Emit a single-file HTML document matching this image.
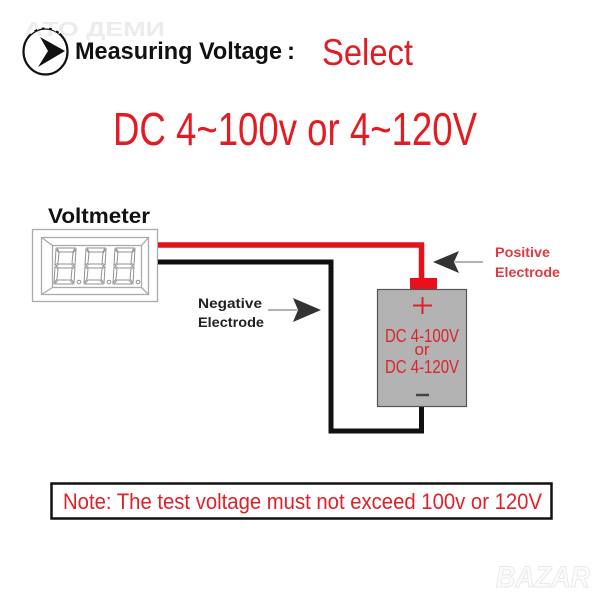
<!DOCTYPE html>
<html><head><meta charset="utf-8"><style>
html,body{margin:0;padding:0;background:#fff;}
svg{display:block;}
text{font-family:"Liberation Sans","DejaVu Sans",sans-serif;}
</style></head><body>
<svg width="600" height="600" viewBox="0 0 600 600" xmlns="http://www.w3.org/2000/svg">
<rect width="600" height="600" fill="#fff"/>
<!-- watermark -->
<text x="24" y="36" font-size="20" font-weight="bold" fill="#ececec" textLength="141" lengthAdjust="spacingAndGlyphs">АТО ДЕМИ</text>
<!-- header icon -->
<ellipse cx="45.5" cy="51.5" rx="22" ry="23" fill="none" stroke="#111" stroke-width="2.2"/>
<path d="M30,33 A22,23 0 0 1 60,33" fill="none" stroke="#fff" stroke-width="3" stroke-dasharray="5 3"/>
<path d="M40,37 L65,51 L38,67 L48,51 Z" fill="#111"/>
<text x="75" y="59" font-size="24" font-weight="bold" fill="#111" textLength="207" lengthAdjust="spacingAndGlyphs">Measuring Voltage</text>
<text x="287" y="59" font-size="24" font-weight="bold" fill="#111">:</text>
<text x="322" y="65" font-size="37" fill="#e31b23" textLength="91" lengthAdjust="spacingAndGlyphs">Select</text>
<text x="113" y="145" font-size="46" fill="#e31b23" textLength="364" lengthAdjust="spacingAndGlyphs">DC 4~100v or 4~120V</text>

<!-- Voltmeter -->
<text x="48" y="223" font-size="21" font-weight="bold" fill="#111" textLength="102" lengthAdjust="spacingAndGlyphs">Voltmeter</text>
<g fill="none" stroke="#aaa" stroke-width="1.3">
<rect x="32.5" y="229.5" width="125" height="72"/>
<rect x="41.5" y="237.5" width="107" height="57"/>
<rect x="52.5" y="245.5" width="89" height="42"/>
<line x1="41.5" y1="237.5" x2="52.5" y2="245.5"/>
<line x1="148.5" y1="237.5" x2="141.5" y2="245.5"/>
<line x1="41.5" y1="294.5" x2="52.5" y2="287.5"/>
<line x1="148.5" y1="294.5" x2="141.5" y2="287.5"/>
</g>
<g fill="none" stroke="#909090" stroke-width="1">
<g>
<path d="M57,248 L75,248 L73,252 L59,252 Z"/>
<path d="M56,249 L59,253 L58,263 L55,265 Z"/>
<path d="M76,249 L73,253 L72,263 L75,265 Z"/>
<path d="M56,266 L59,264 L71,264 L74,266 L71,268 L59,268 Z"/>
<path d="M55,267 L58,269 L57,279 L54,283 Z"/>
<path d="M75,267 L72,269 L71,279 L74,283 Z"/>
<path d="M55,284 L58,280 L70,280 L73,284 Z"/>
<circle cx="79" cy="282" r="1.8"/>
</g>
<g transform="translate(30,0)">
<path d="M57,248 L75,248 L73,252 L59,252 Z"/>
<path d="M56,249 L59,253 L58,263 L55,265 Z"/>
<path d="M76,249 L73,253 L72,263 L75,265 Z"/>
<path d="M56,266 L59,264 L71,264 L74,266 L71,268 L59,268 Z"/>
<path d="M55,267 L58,269 L57,279 L54,283 Z"/>
<path d="M75,267 L72,269 L71,279 L74,283 Z"/>
<path d="M55,284 L58,280 L70,280 L73,284 Z"/>
<circle cx="79" cy="282" r="1.8"/>
</g>
<g transform="translate(59,0)">
<path d="M57,248 L75,248 L73,252 L59,252 Z"/>
<path d="M56,249 L59,253 L58,263 L55,265 Z"/>
<path d="M76,249 L73,253 L72,263 L75,265 Z"/>
<path d="M56,266 L59,264 L71,264 L74,266 L71,268 L59,268 Z"/>
<path d="M55,267 L58,269 L57,279 L54,283 Z"/>
<path d="M75,267 L72,269 L71,279 L74,283 Z"/>
<path d="M55,284 L58,280 L70,280 L73,284 Z"/>
<circle cx="79" cy="282" r="1.8"/>
</g>
</g>

<!-- wires -->
<polyline points="158,245 421.5,245 421.5,280" fill="none" stroke="#e8101a" stroke-width="5.5"/>
<polyline points="158,262 331,262 331,431 421.5,431 421.5,406" fill="none" stroke="#111" stroke-width="5"/>

<!-- battery -->
<rect x="410" y="278" width="27" height="12" fill="#e8101a"/>
<rect x="377.5" y="289.5" width="89" height="117" fill="#b3b3b3" stroke="#555" stroke-width="1.2"/>
<line x1="413" y1="305.5" x2="432" y2="305.5" stroke="#d8262e" stroke-width="2"/>
<line x1="422.5" y1="297" x2="422.5" y2="314" stroke="#d8262e" stroke-width="2"/>
<text x="385" y="342" font-size="18" fill="#d8262e" textLength="74" lengthAdjust="spacingAndGlyphs">DC 4-100V</text>
<text x="422" y="355" font-size="17" fill="#d8262e" text-anchor="middle">or</text>
<text x="385" y="373" font-size="18" fill="#d8262e" textLength="74" lengthAdjust="spacingAndGlyphs">DC 4-120V</text>
<line x1="416" y1="395" x2="429" y2="395" stroke="#444" stroke-width="2.5"/>

<!-- positive arrow -->
<line x1="455" y1="262" x2="483" y2="262" stroke="#666" stroke-width="1"/>
<path d="M433,262 L459,251 L454,262 L459,273 Z" fill="#333"/>
<text x="495" y="257" font-size="13.5" font-weight="bold" fill="#e03a40" textLength="55" lengthAdjust="spacingAndGlyphs">Positive</text>
<text x="495" y="277" font-size="13.5" font-weight="bold" fill="#e03a40" textLength="65" lengthAdjust="spacingAndGlyphs">Electrode</text>

<!-- negative arrow -->
<text x="198" y="308" font-size="13.5" font-weight="bold" fill="#222" textLength="64" lengthAdjust="spacingAndGlyphs">Negative</text>
<text x="198" y="327" font-size="13.5" font-weight="bold" fill="#222" textLength="66" lengthAdjust="spacingAndGlyphs">Electrode</text>
<line x1="268" y1="310" x2="297" y2="310" stroke="#666" stroke-width="1"/>
<path d="M321,310 L293,298 L298,310 L293,322 Z" fill="#333"/>

<!-- note -->
<rect x="51.5" y="483.5" width="500" height="35" fill="#fff" stroke="#111" stroke-width="2.5"/>
<text x="63" y="509" font-size="22" fill="#e0202a" textLength="479" lengthAdjust="spacingAndGlyphs">Note: The test voltage must not exceed 100v or 120V</text>

<!-- bazar watermark -->
<text x="496" y="587" font-size="30" font-weight="bold" font-style="italic" fill="#fcfcfc" stroke="#e8e8e8" stroke-width="1" textLength="94" lengthAdjust="spacingAndGlyphs">BAZAR</text>
</svg>
</body></html>
